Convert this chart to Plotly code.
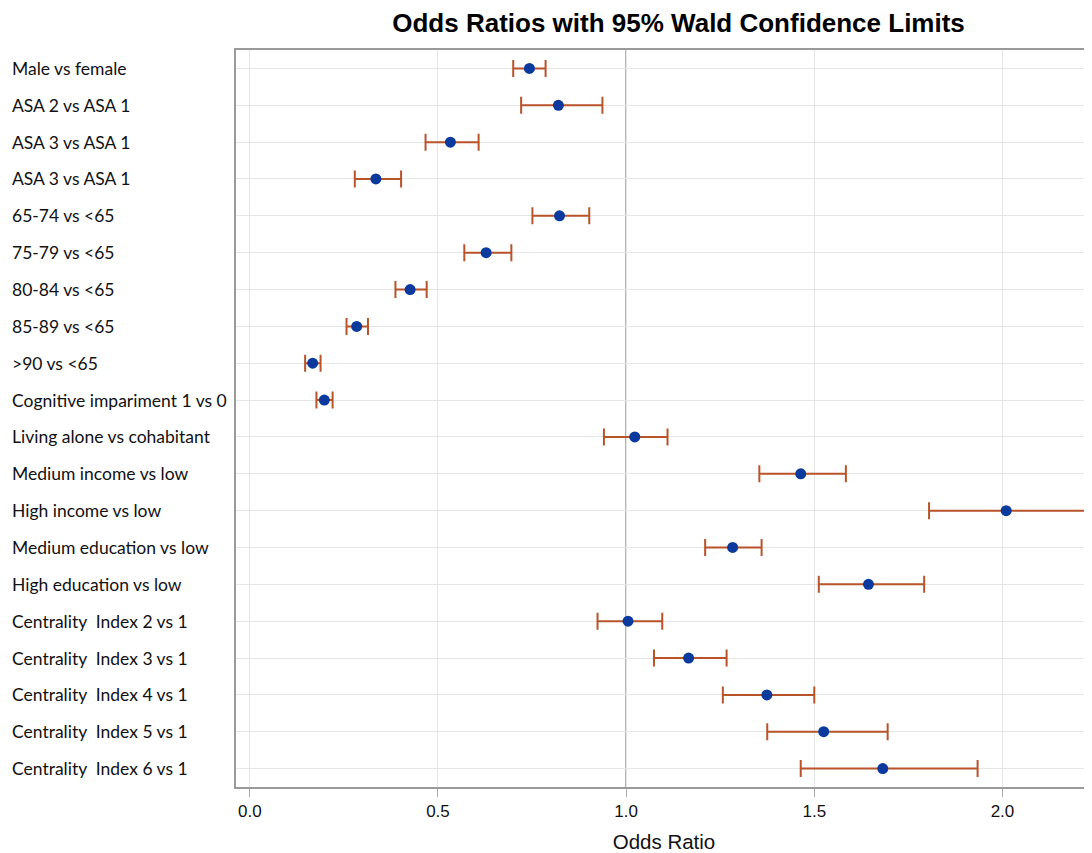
import plotly.graph_objects as go

labels = [
    "Male vs female", "ASA 2 vs ASA 1", "ASA 3 vs ASA 1", "ASA 3 vs ASA 1",
    "65-74 vs <65", "75-79 vs <65", "80-84 vs <65", "85-89 vs <65", ">90 vs <65",
    "Cognitive impariment 1 vs 0", "Living alone vs cohabitant",
    "Medium income vs low", "High income vs low", "Medium education vs low",
    "High education vs low", "Centrality  Index 2 vs 1", "Centrality  Index 3 vs 1",
    "Centrality  Index 4 vs 1", "Centrality  Index 5 vs 1", "Centrality  Index 6 vs 1",
]
odds_ratio = [0.743, 0.820, 0.533, 0.335, 0.823, 0.628, 0.426, 0.284, 0.167, 0.198,
              1.023, 1.464, 2.010, 1.283, 1.644, 1.005, 1.166, 1.374, 1.525, 1.682]
lower_cl = [0.700, 0.721, 0.467, 0.279, 0.751, 0.570, 0.387, 0.257, 0.147, 0.177,
            0.941, 1.354, 1.805, 1.210, 1.512, 0.924, 1.074, 1.257, 1.375, 1.464]
upper_cl = [0.786, 0.937, 0.608, 0.402, 0.902, 0.695, 0.470, 0.314, 0.188, 0.220,
            1.110, 1.584, 2.240, 1.360, 1.792, 1.096, 1.267, 1.500, 1.695, 1.934]
x_ticks = [0.0, 0.5, 1.0, 1.5, 2.0]

rows = list(range(len(labels)))
err_plus = [u - o for u, o in zip(upper_cl, odds_ratio)]
err_minus = [o - l for o, l in zip(odds_ratio, lower_cl)]

fig = go.Figure()
fig.add_trace(go.Scatter(
    x=odds_ratio, y=rows, mode="markers",
    marker=dict(color="#0a3a9e", size=11),
    error_x=dict(type="data", symmetric=False, array=err_plus, arrayminus=err_minus,
                 color="#b9532a", thickness=2, width=8.5),
    showlegend=False, cliponaxis=False,
))

fig.add_vline(x=1.0, line=dict(color="#888888", width=1.5), layer="below")

for i, lab in enumerate(labels):
    fig.add_annotation(x=-0.2640, xref="paper", y=i, yref="y", text=lab,
                       showarrow=False, xanchor="left", yanchor="middle",
                       font=dict(family="Lato, Carlito, sans-serif", size=17.5, color="#111"))

fig.update_layout(
    width=1084, height=845,
    margin=dict(l=228, r=0, t=42, b=66),
    paper_bgcolor="white", plot_bgcolor="white",
    title=dict(text="<b>Odds Ratios with 95% Wald Confidence Limits</b>",
               x=0.5170, xref="paper", xanchor="center", y=0.982, yanchor="middle",
               font=dict(family="Liberation Sans, Arial, sans-serif", size=26, color="#000")),
    xaxis=dict(range=[-0.0367, 2.238], tickvals=x_ticks, tickformat=".1f",
               showgrid=True, gridcolor="#e6e6e6", gridwidth=1, zeroline=False,
               showline=True, linecolor="#9a9a9a", linewidth=2, mirror=True,
               ticks="outside", ticklen=8, tickcolor="#aaa", tickwidth=1,
               tickfont=dict(family="Liberation Sans, Arial, sans-serif", size=17, color="#111"),
               title=dict(text="Odds Ratio", standoff=16,
                          font=dict(family="Liberation Sans, Arial, sans-serif", size=20.5, color="#111"))),
    yaxis=dict(range=[len(labels) - 0.5, -0.5], tickvals=rows, showticklabels=False,
               showgrid=True, gridcolor="#e6e6e6", gridwidth=1, zeroline=False,
               showline=True, linecolor="#9a9a9a", linewidth=2, mirror=False, ticks=""),
)

fig.write_html("out.html")
